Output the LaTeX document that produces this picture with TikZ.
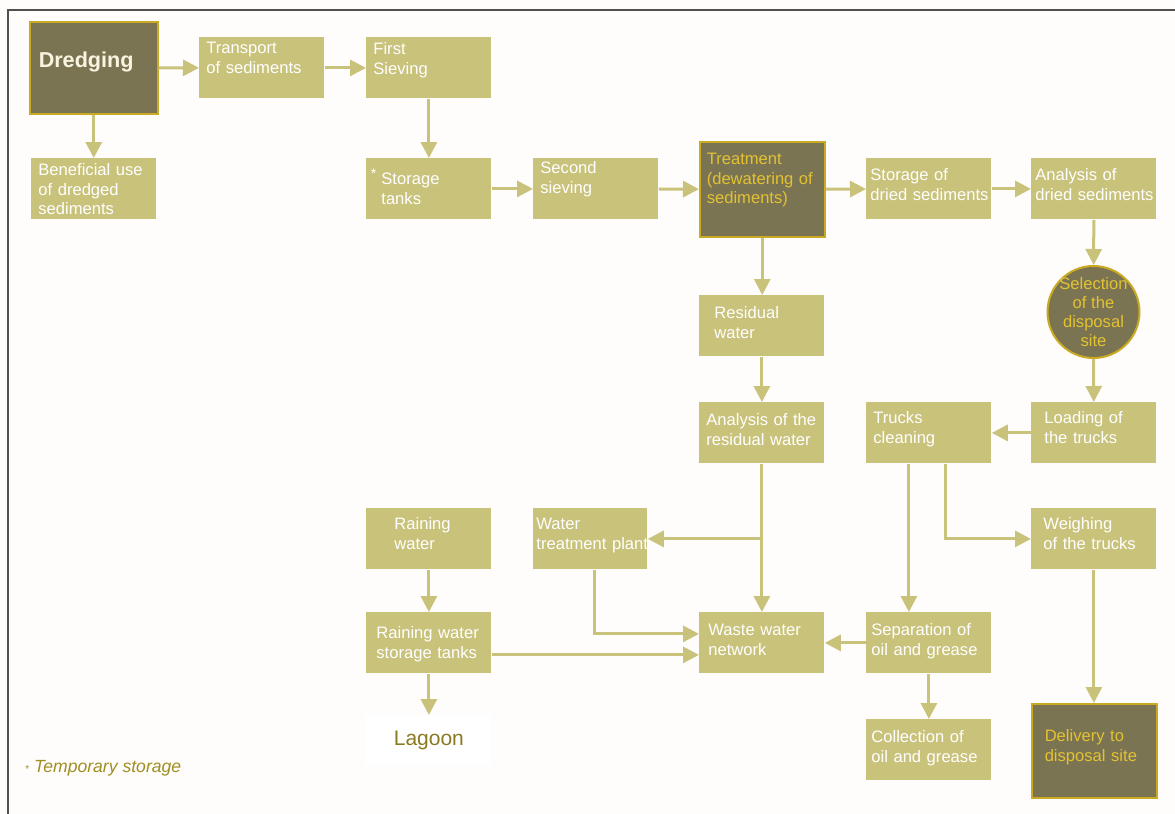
\documentclass[tikz,border=0pt]{standalone}
\usepackage{fontspec}
\setmainfont{Liberation Sans}
\usepackage{tikz}
\usetikzlibrary{arrows.meta,calc,positioning}
\definecolor{DredgeKhaki}{HTML}{C9C27B}
\definecolor{DredgeOlive}{HTML}{7B7452}
\definecolor{DredgeGold}{HTML}{E2C233}
\definecolor{DredgeEdge}{HTML}{C9AA22}
\definecolor{DredgeCream}{HTML}{F8F4E0}
\definecolor{DredgeLagoon}{HTML}{8A7A22}
\definecolor{DredgeNote}{HTML}{A08E22}
\definecolor{DredgePage}{HTML}{FEFDFB}
\definecolor{DredgeFrame}{HTML}{505050}
\tikzset{
  stagebox/.style={anchor=north west,fill=DredgeKhaki,text=white,
    font=\fontsize{8.3}{9.8}\selectfont,align=left,
    text width=55.5pt,inner xsep=3.5pt,inner ysep=2pt,
    text height=#1,text depth=26.5pt-#1},
  stagebox/.default=8.5pt,
  darkbox/.style={anchor=north west,fill=DredgeOlive,draw=DredgeEdge,
    line width=0.75pt,text=DredgeGold,
    font=\fontsize{8.3}{9.8}\selectfont,align=left,inner ysep=2pt},
  sitecircle/.style={circle,fill=DredgeOlive,draw=DredgeEdge,
    line width=1pt,minimum size=46pt,inner sep=0pt},
  flow/.style={draw=DredgeKhaki,line width=1.5pt,
    -{Triangle[length=8pt,width=8pt]}}
}

\begin{document}
\begin{tikzpicture}[x=0.5pt,y=-0.5pt]

        \useasboundingbox (0,0) rectangle (1175,814);
        \fill[DredgePage] (0,0) rectangle (1175,814);
        \draw[DredgeFrame,line width=1pt] (8,814) -- (8,10) -- (1175,10);

        \node[darkbox,text=DredgeCream,inner xsep=4.5pt,text width=55pt,
          text height=21pt,text depth=21pt,
          font=\bfseries\fontsize{10.8}{12}\selectfont]
          (dredge) at (29,21) {Dredging};

        \node[stagebox=6pt] (transport) at (199,37) {Transport\\of sediments};
        \node[stagebox=6.5pt] (sieveA) at (366,37) {First\\Sieving};
        \node[stagebox=6.5pt] (benefit) at (31,158)
          {Beneficial use\\of dredged\\sediments};
        \node[stagebox=11pt,inner xsep=7.5pt,text width=47.5pt] (tanks) at (366,158)
          {\llap{\raisebox{3pt}{\scriptsize*}\hspace{2.5pt}}Storage\\tanks};
        \node[stagebox=5.5pt] (sieveB) at (533,158) {Second\\sieving};

        \node[darkbox,inner xsep=3.5pt,text width=55.5pt,
          text height=9.5pt,text depth=34pt]
          (treat) at (699,141) {Treatment\\(dewatering of\\sediments)};

        \node[stagebox=9pt,inner xsep=2pt,text width=58.5pt] (drystore) at (866,158)
          {Storage of\\\mbox{dried sediments}};
        \node[stagebox=9pt,inner xsep=2pt,text width=58.5pt] (dryanalysis) at (1031,158)
          {Analysis of\\\mbox{dried sediments}};

        \node[sitecircle,label={[text=DredgeGold,align=center,
          font=\fontsize{8.3}{9.5}\selectfont]center:{Selection\\of the\\disposal\\site}}]
          (select) at (1093.5,312) {};

        \node[stagebox=9.5pt,inner xsep=7.5pt,text width=47.5pt] (resid) at (699,295)
          {Residual\\water};
        \node[stagebox=9.5pt] (residanalysis) at (699,402)
          {Analysis of the\\residual water};
        \node[stagebox] (cleaning) at (866,402) {Trucks\\cleaning};
        \node[stagebox=8.5pt,inner xsep=6.5pt,text width=49.5pt] (loading) at (1031,402)
          {Loading of\\the trucks};

        \node[stagebox,inner xsep=14pt,text width=34.5pt] (rain) at (366,508)
          {Raining\\water};
        \node[stagebox,inner xsep=1.5pt,text width=54pt] (wtp) at (533,508)
          {Water\\\mbox{treatment plant}};
        \node[stagebox,inner xsep=6pt,text width=50.5pt] (weigh) at (1031,508)
          {Weighing\\of the trucks};

        \node[stagebox=11pt,inner xsep=5pt,text width=52.5pt] (raintank) at (366,612)
          {Raining water\\storage tanks};
        \node[stagebox=9.5pt,inner xsep=4.5pt,text width=53.5pt] (waste) at (699,612)
          {Waste water\\network};
        \node[stagebox=9.5pt,inner xsep=2.5pt,text width=57.5pt] (separate) at (866,612)
          {Separation of\\oil and grease};
        \node[stagebox=9.5pt,inner xsep=2.5pt,text width=57.5pt] (collect) at (866,719)
          {Collection of\\oil and grease};

        \node[darkbox,inner xsep=6.5pt,text width=49.5pt,
          text height=17pt,text depth=26pt]
          (delivery) at (1031,703) {Delivery to\\disposal site};

        \node[anchor=north west,fill=white,text=DredgeLagoon,
          minimum width=62.5pt,minimum height=25pt,
          font=\fontsize{10.5}{12}\selectfont]
          (lagoon) at (366,715) {Lagoon};

        \node[anchor=west,text=DredgeNote,inner sep=0pt,
          font=\fontsize{8.8}{10}\selectfont]
          (note) at (25,768) {{\tiny*}\ \textit{Temporary storage}};

        \draw[flow] (dredge) -- (transport);
        \draw[flow] (transport) -- (sieveA);
        \draw[flow] (dredge.south) -- (dredge.south |- benefit.north);
        \draw[flow] (sieveA) -- (tanks);
        \draw[flow] (tanks) -- (sieveB);
        \draw[flow] (sieveB) -- (treat);
        \draw[flow] (treat) -- (drystore);
        \draw[flow] (drystore) -- (dryanalysis);
        \draw[flow] (dryanalysis) -- (select);
        \draw[flow] (select) -- (loading);
        \draw[flow] (loading) -- (cleaning);

        \draw[flow] (treat.south) -- (treat.south |- resid.north);
        \draw[flow] (resid) -- (residanalysis);
        \draw[flow] (residanalysis) -- (waste);
        \draw[flow] (residanalysis |- wtp) -- (wtp);

        \draw[flow] ([xshift=-10pt]cleaning.south) -- ([xshift=-10pt]separate.north);
        \draw[flow] ([xshift=8.5pt]cleaning.south) |- (weigh);
        \draw[flow] (weigh.south) -- (weigh.south |- delivery.north);

        \draw[flow] ([xshift=2pt]wtp.south) |- ([yshift=4.5pt]waste.west);
        \draw[flow] ([yshift=-6pt]raintank.east) -- ([yshift=-6pt]waste.west);
        \draw[flow] (separate) -- (waste);
        \draw[flow] (separate) -- (collect);

        \draw[flow] (rain) -- (raintank);
        \draw[flow] (raintank) -- (lagoon);

      \end{tikzpicture}
\end{document}
